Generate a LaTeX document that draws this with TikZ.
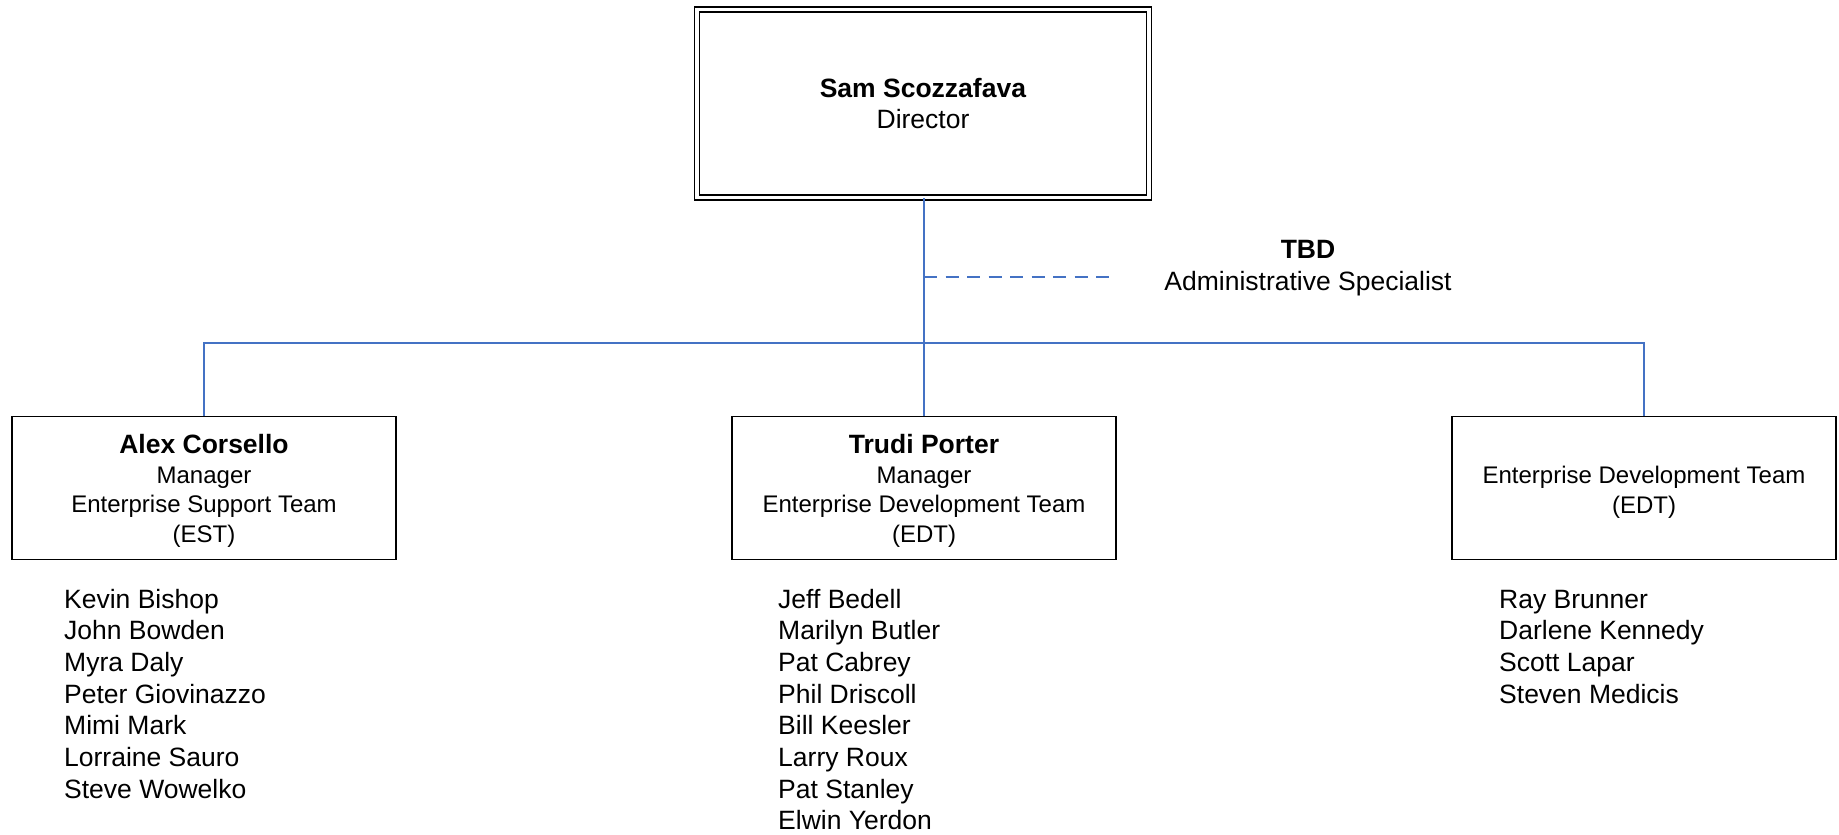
\documentclass[tikz,border=0pt]{standalone}
\usepackage{fontspec}
\setmainfont{Liberation Sans}
\definecolor{connblue}{HTML}{4472C4}
\newcommand\namehead[1]{{\fontsize{26.5}{29.5}\selectfont\bfseries\rule{0pt}{24.5pt}#1}}
\tikzset{
  unitbox/.style={draw=black, line width=1.8pt, minimum width=384pt, minimum height=143pt,
    inner sep=0pt, align=center, font=\fontsize{24}{29.5}\selectfont},
  dirbox/.style={draw=black, double=white, double distance=3.3pt, line width=1.7pt,
    minimum width=452pt, minimum height=188pt, inner sep=0pt, align=center,
    font=\fontsize{26.5}{31}\selectfont},
  conn/.style={draw=connblue, line width=1.8pt},
  dashconn/.style={conn, dash pattern=on 13pt off 8.5pt},
  member/.style={anchor=base west, inner sep=0pt, font=\fontsize{26.5}{31.7}\selectfont},
  tbdlabel/.style={align=center, inner sep=0pt, font=\fontsize{26.5}{32}\selectfont}
}
\begin{document}
\begin{tikzpicture}[x=1pt, y=-1pt]
\useasboundingbox (0,0) rectangle (1839,835);
\fill[white] (0,0) rectangle (1839,835);

% director
\node[dirbox] (dir) at (923,103.5) {\textbf{Sam Scozzafava}\\Director};

% units
\node[unitbox] (est) at (204,488) {\namehead{Alex Corsello}\\Manager\\Enterprise Support Team\\(EST)};
\node[unitbox] (edtm) at (924,488) {\namehead{Trudi Porter}\\Manager\\Enterprise Development Team\\(EDT)};
\node[unitbox] (edt) at (1644,488) {\rule{0pt}{25.7pt}Enterprise Development Team\\(EDT)};

% admin specialist
\node[tbdlabel] (tbd) at (1308,268) {\textbf{TBD}\\Administrative Specialist};

% connectors
\coordinate (bus) at (924,343);
\coordinate (dashstart) at (924,277);
\coordinate (dashend) at (1117,277);
\draw[conn] (dir.south -| edtm.north) -- (edtm.north);
\draw[conn] (est.north) |- (bus) -| (edt.north);
\draw[dashconn] (dashstart) -- (dashend);

% member lists
\foreach \n [count=\i from 0] in {Kevin Bishop, John Bowden, Myra Daly, Peter Giovinazzo, Mimi Mark, Lorraine Sauro, Steve Wowelko}
  \node[member] (esta\i) at (64,608+\i*31.7) {\n};
\foreach \n [count=\i from 0] in {Jeff Bedell, Marilyn Butler, Pat Cabrey, Phil Driscoll, Bill Keesler, Larry Roux, Pat Stanley, Elwin Yerdon}
  \node[member] (edtma\i) at (778,608+\i*31.7) {\n};
\foreach \n [count=\i from 0] in {Ray Brunner, Darlene Kennedy, Scott Lapar, Steven Medicis}
  \node[member] (edta\i) at (1499,608+\i*31.7) {\n};
\end{tikzpicture}
\end{document}
